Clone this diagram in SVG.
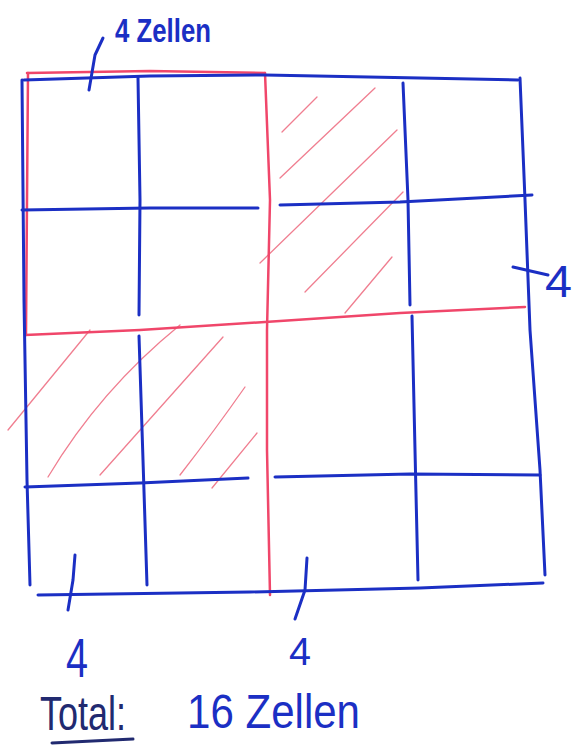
<svg xmlns="http://www.w3.org/2000/svg" width="576" height="748" viewBox="0 0 576 748">
<style>
.b{fill:none;stroke:#1b2fc4;stroke-width:3;stroke-linecap:round;stroke-linejoin:round}
.r{fill:none;stroke:#f0466a;stroke-width:2.5;stroke-linecap:round}
.h{fill:none;stroke:#f07e90;stroke-width:1.3;stroke-linecap:round}
.t{fill:#1b2fc4;font-family:"Liberation Sans",Arial,sans-serif}
</style>
<rect width="576" height="748" fill="#fff"/>
<g id="hatching">
<path class="h" d="M282 132 L317 97"/>
<path class="h" d="M280 178 L375 88"/>
<path class="h" d="M260 263 L397 130"/>
<path class="h" d="M305 292 L403 192"/>
<path class="h" d="M345 313 L392 257"/>
<path class="h" d="M90 330 L8 430"/>
<path class="h" d="M180 325 Q100 390 48 477"/>
<path class="h" d="M223 337 L100 475"/>
<path class="h" d="M245 387 Q215 430 180 475"/>
<path class="h" d="M257 433 L212 488"/>
</g>
<g id="red-outline">
<path class="r" d="M27 73 L150 71 L265 73"/>
<path class="r" d="M28 73 L27 200 L26 335"/>
<path class="r" d="M265 73 L270 200 L267 330 L267 450 L270 595"/>
<path class="r" d="M25 335 L140 330 L265 322 L400 313 L525 307"/>
</g>
<g id="grid">
<path class="b" d="M24 80 L150 76 L265 75 L420 78 L518 80"/>
<path class="b" d="M22 80 L24 300 L27 480 L30 585"/>
<path class="b" d="M138 78 L140 200 L139 315"/>
<path class="b" d="M139 336 L143 460 L147 585"/>
<path class="b" d="M403 83 L408 200 L410 305"/>
<path class="b" d="M412 316 L415 450 L418 580"/>
<path class="b" d="M520 78 L525 200 L530 330 L540 470 L545 575"/>
<path class="b" d="M22 210 L150 208 L258 208"/>
<path class="b" d="M280 205 L400 202 L532 195"/>
<path class="b" d="M25 487 L140 483 L248 478"/>
<path class="b" d="M275 477 L410 474 L540 475"/>
<path class="b" d="M38 595 L250 592 L420 588 L543 583"/>
</g>
<g id="ticks">
<path class="b" d="M103 38 L95 55 L89 90"/>
<path class="b" d="M513 267 L548 275"/>
<path class="b" d="M75 555 L73 580 L68 610"/>
<path class="b" d="M307 558 L305 590 L295 619"/>
</g>
<g id="labels">
<text class="t" x="115" y="42" font-size="34" font-weight="bold" textLength="96" lengthAdjust="spacingAndGlyphs">4 Zellen</text>
<text class="t" x="545" y="297" font-size="44" textLength="27" lengthAdjust="spacingAndGlyphs">4</text>
<text class="t" x="66" y="677" font-size="56" textLength="22" lengthAdjust="spacingAndGlyphs">4</text>
<text class="t" x="289" y="665" font-size="38" textLength="22" lengthAdjust="spacingAndGlyphs">4</text>
<text class="t" x="40" y="730" font-size="48" textLength="86" lengthAdjust="spacingAndGlyphs" style="fill:#212a70">Total:</text>
<path class="b" d="M52 743 L133 739" style="stroke:#212a70"/>
<text class="t" x="187" y="728" font-size="48" textLength="173" lengthAdjust="spacingAndGlyphs">16 Zellen</text>
</g>
</svg>
